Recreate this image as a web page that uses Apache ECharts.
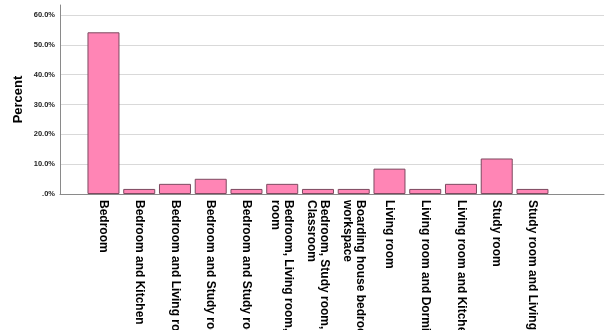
<!DOCTYPE html>
<html><head><meta charset="utf-8">
<script src="https://cdn.jsdelivr.net/npm/echarts@6/dist/echarts.min.js"></script>
<style>html,body{margin:0;padding:0;background:#fff}#c{width:612px;height:330px}</style>
</head><body><div id="c"></div>
<script>
const categories = [
  "Bedroom",
  "Bedroom and Kitchen",
  "Bedroom and Living room",
  "Bedroom and Study room",
  "Bedroom and Study room, Kitchen",
  "Bedroom, Living room, Study\nroom",
  "Bedroom, Study room,\nClassroom",
  "Boarding house bedroom,\nworkspace",
  "Living room",
  "Living room and Dormitory",
  "Living room and Kitchen",
  "Study room",
  "Study room and Living room"
];
const percentValues = [54.2, 1.7, 3.4, 5.1, 1.7, 3.4, 1.7, 1.7, 8.5, 1.7, 3.4, 11.9, 1.7];
const yTicks = [0, 10, 20, 30, 40, 50, 60];

const yMax = 63.35;
const chart = echarts.init(document.getElementById('c'), null, {renderer: 'canvas'});
const font = 'Liberation Sans, Arial, sans-serif';
chart.setOption({
  animation: false,
  grid: [
    {left: 60, right: 8, top: 5, bottom: 136, containLabel: false, outerBoundsMode: 'none'},
    {left: 85.6, width: 464.75, top: 5, bottom: 136, containLabel: false, outerBoundsMode: 'none'}
  ],
  xAxis: [
    {gridIndex: 0, type: 'value', min: 0, max: 1, axisLine: {show: true, lineStyle: {color: '#8a8a8a', width: 1}},
     axisTick: {show: false}, axisLabel: {show: false}, splitLine: {show: false}},
    {gridIndex: 1, type: 'category', data: categories, axisLine: {show: false}, axisTick: {show: false},
     axisLabel: {rotate: -90, interval: 0, margin: 6, fontSize: 12, fontWeight: 'bold', fontFamily: font, color: '#000', lineHeight: 13, hideOverlap: false}}
  ],
  yAxis: [
    {gridIndex: 0, type: 'value', min: 0, max: yMax, interval: 10,
     name: 'Percent', nameLocation: 'middle', nameGap: 35, nameMoveOverlap: false,
     nameTextStyle: {fontSize: 13, fontWeight: 'bold', fontFamily: font, color: '#000'},
     axisLine: {show: true, lineStyle: {color: '#8a8a8a', width: 1}}, axisTick: {show: false},
     axisLabel: {showMaxLabel: false, margin: 5, fontSize: 7.5, fontWeight: 'bold', fontFamily: font, color: '#222',
       formatter: v => yTicks.includes(v) ? (v === 0 ? '.0%' : v.toFixed(1) + '%') : ''},
     splitLine: {show: true, showMaxLine: false, lineStyle: {color: '#d9d9d9', width: 1}}},
    {gridIndex: 1, type: 'value', min: 0, max: yMax, show: false, splitLine: {show: false}}
  ],
  series: [{
    type: 'bar', xAxisIndex: 1, yAxisIndex: 1, data: percentValues, barWidth: 32,
    itemStyle: {color: '#FF85B5', borderColor: '#7d4a60', borderWidth: 1}
  }]
});
</script></body></html>
